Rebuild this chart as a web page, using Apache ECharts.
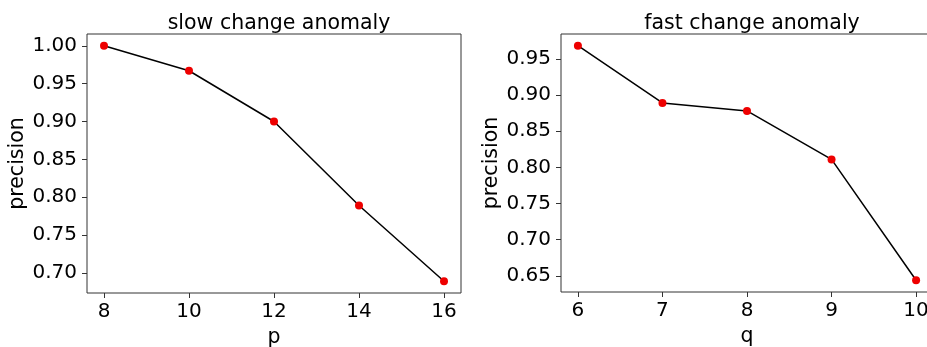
<!DOCTYPE html>
<html>
<head>
<meta charset="utf-8">
<script src="https://cdn.jsdelivr.net/npm/echarts@6/dist/echarts.min.js"></script>
<style>
	html,body{margin:0;padding:0;background:#fff;}
	#chart{width:927px;height:347px;}
</style>
</head>
<body>
<div id="chart"></div>
<script>
// slow change anomaly
var pValues = [8, 10, 12, 14, 16];
var slowPrecision = [1.000, 0.967, 0.900, 0.789, 0.689];
var pTicks = [8, 10, 12, 14, 16];
var slowTicks = [0.70, 0.75, 0.80, 0.85, 0.90, 0.95, 1.00];

// fast change anomaly
var qValues = [6, 7, 8, 9, 10];
var fastPrecision = [0.968, 0.889, 0.878, 0.811, 0.644];
var qTicks = [6, 7, 8, 9, 10];
var fastTicks = [0.65, 0.70, 0.75, 0.80, 0.85, 0.90, 0.95];

var FONT = 'DejaVu Sans';

// matplotlib style 5% padding round the data
padRange = function(arr){
	var lo = Math.min.apply(null, arr), hi = Math.max.apply(null, arr);
	var d = (hi - lo) * 0.05;
	return [lo - d, hi + d];
};

makeX = function(idx, name, vals, ticks){
	var r = padRange(vals);
	return {
		type: 'value', gridIndex: idx, min: r[0], max: r[1],
		name: name, nameLocation: 'middle', nameGap: 31,
		nameTextStyle: {fontFamily: FONT, fontSize: 20.5, color: '#000'},
		axisLine: {show: false},
		splitLine: {show: false},
		axisTick: {show: true, length: 5, lineStyle: {color: '#333'}, customValues: ticks},
		axisLabel: {fontFamily: FONT, fontSize: 20, color: '#000', margin: 9, customValues: ticks}
	};
};

makeY = function(idx, vals, ticks){
	var r = padRange(vals);
	return {
		type: 'value', gridIndex: idx, min: r[0], max: r[1],
		name: 'precision', nameLocation: 'middle', nameGap: 51,
		nameTextStyle: {fontFamily: FONT, fontSize: 20.5, color: '#000'},
		axisLine: {show: false},
		splitLine: {show: false},
		axisTick: {show: true, length: 5, lineStyle: {color: '#333'}, customValues: ticks},
		axisLabel: {fontFamily: FONT, fontSize: 20, color: '#000', margin: 10, customValues: ticks,
			formatter: function(v){ return v.toFixed(2); }}
	};
};

makeSeries = function(idx, xs, ys){
	var data = [];
	for(var i = 0; i < xs.length; i++){
		data.push([xs[i], ys[i]]);
	}
	return {
		type: 'line', xAxisIndex: idx, yAxisIndex: idx, data: data,
		symbol: 'circle', symbolSize: 8,
		itemStyle: {color: '#ee0000', borderWidth: 0},
		lineStyle: {color: '#000', width: 1.5},
		clip: false,
		z: 3
	};
};

var myChart = echarts.init(document.getElementById('chart'), null, {renderer: 'canvas'});
var option = {
	animation: false,
	backgroundColor: '#fff',
	title: [
		{text: 'slow change anomaly', left: 274, top: 8, textAlign: 'center',
			textStyle: {fontFamily: FONT, fontSize: 20.5, fontWeight: 'normal', color: '#000'}},
		{text: 'fast change anomaly', left: 747, top: 8, textAlign: 'center',
			textStyle: {fontFamily: FONT, fontSize: 20.5, fontWeight: 'normal', color: '#000'}}
	],
	grid: [
		{left: 87, top: 34, width: 374, height: 259, outerBoundsMode: 'none', containLabel: false,
			show: true, borderColor: '#333', borderWidth: 1, backgroundColor: 'transparent'},
		{left: 561, top: 34, width: 372, height: 258, outerBoundsMode: 'none', containLabel: false,
			show: true, borderColor: '#333', borderWidth: 1, backgroundColor: 'transparent'}
	],
	xAxis: [
		makeX(0, 'p', pValues, pTicks),
		makeX(1, 'q', qValues, qTicks)
	],
	yAxis: [
		makeY(0, slowPrecision, slowTicks),
		makeY(1, fastPrecision, fastTicks)
	],
	series: [
		makeSeries(0, pValues, slowPrecision),
		makeSeries(1, qValues, fastPrecision)
	]
};
myChart.setOption(option);
</script>
</body>
</html>
